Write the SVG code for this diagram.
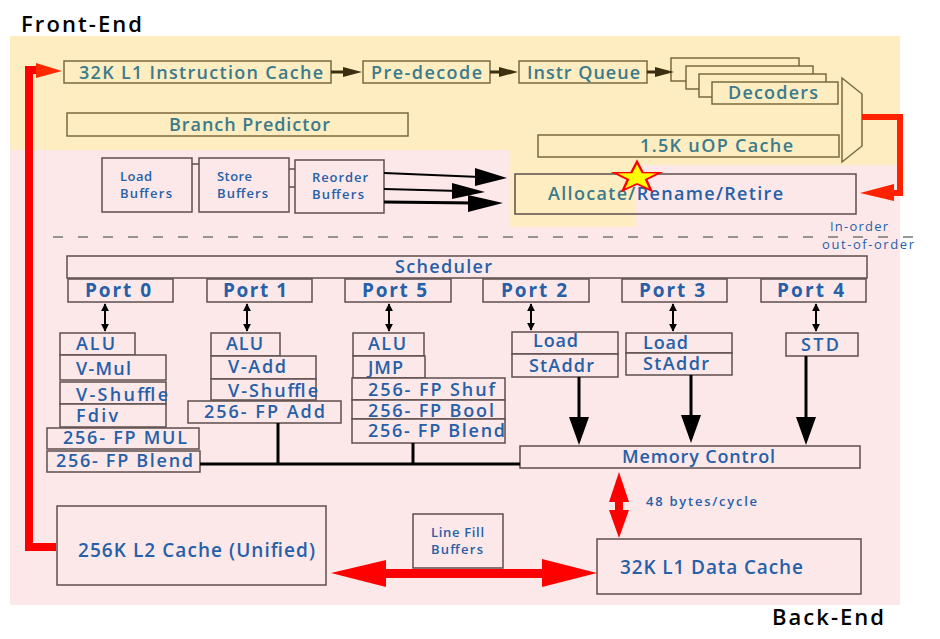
<svg xmlns="http://www.w3.org/2000/svg" width="940" height="639" viewBox="0 0 940 639">
  <style>
    text { font-family: "Open Sans", "DejaVu Sans", sans-serif; }
    .fe { fill: none; stroke: #7a6a3c; stroke-width: 1.5; }
    .fef { fill: #fdedc0; stroke: #7a6a3c; stroke-width: 1.5; }
    .be { fill: none; stroke: #5e4e4e; stroke-width: 1.5; }
    .bef { fill: #fde8e9; stroke: #5e4e4e; stroke-width: 1.5; }
    .tf { fill: #3b7a8c; font-size: 18px; font-weight: 600; }
    .tb { fill: #2560a8; font-size: 19px; font-weight: 600; }
    .sm { fill: #2560a8; font-size: 13px; font-weight: 600; }
    .lt { fill: #2560a8; font-size: 13px; font-weight: 400; }
    .port { fill: #2560a8; font-size: 19px; font-weight: 700; }
    .unit { fill: #2560a8; font-size: 18px; font-weight: 600; }
    .head { fill: #000; font-size: 22px; font-weight: 600; }
    .blk { stroke: #000; stroke-width: 3; fill: none; }
    .red { fill: #ff0000; }
  </style>
  <defs>
    <marker id="tip" viewBox="0 0 10 10" refX="9" refY="5" markerWidth="4" markerHeight="4" orient="auto-start-reverse">
      <path d="M0,0 L10,5 L0,10 z" fill="#000"/>
    </marker>
  </defs>

  <!-- region backgrounds -->
  <g id="regions">
    <rect x="10" y="150" width="890" height="455" fill="#fde8e9"/>
    <rect x="10" y="36" width="890" height="114" fill="#fdedc0"/>
    <rect x="510" y="150" width="390" height="15" fill="#fdedc0"/>
    <rect x="510" y="165" width="126" height="62" fill="#fdedc0"/>
  </g>

  <text class="head" x="21" y="32" textLength="121">Front-End</text>
  <text class="head" x="772" y="625" textLength="112">Back-End</text>

  <!-- front end -->
  <g id="icache"><rect class="fe" x="64" y="61" width="267" height="22"/><text class="tf" x="79" y="79" textLength="244">32K L1 Instruction Cache</text></g>
  <g id="predecode"><rect class="fe" x="363" y="61" width="127" height="22"/><text class="tf" x="371" y="79" textLength="111">Pre-decode</text></g>
  <g id="iqueue"><rect class="fe" x="519" y="61" width="128" height="22"/><text class="tf" x="527" y="79" textLength="113">Instr Queue</text></g>
  <g id="decoders">
    <rect class="fef" x="671" y="58" width="128" height="23"/>
    <rect class="fef" x="686" y="66" width="127" height="23"/>
    <rect class="fef" x="699" y="74" width="127" height="23"/>
    <rect class="fef" x="712" y="82" width="126" height="22"/>
    <text class="tf" x="728" y="99" textLength="90">Decoders</text>
  </g>
  <g id="mux"><polygon class="fef" points="842,78 862,94 862,146 842,162"/></g>
  <g id="uopcache"><rect class="fe" x="538" y="135" width="301" height="22"/><text class="tf" x="640" y="152" textLength="153">1.5K uOP Cache</text></g>
  <g id="bpred"><rect class="fe" x="67" y="113" width="341" height="23"/><text class="tf" x="169" y="131" textLength="161">Branch Predictor</text></g>

  <!-- buffers and allocation -->
  <g id="loadbuf"><rect class="be" x="102" y="158" width="90" height="54"/><text class="sm" x="120" y="181" textLength="32">Load</text><text class="sm" x="120" y="198" textLength="52">Buffers</text></g>
  <g id="storebuf"><rect class="be" x="199" y="158" width="90" height="54"/><text class="sm" x="217" y="181" textLength="35">Store</text><text class="sm" x="217" y="198" textLength="51">Buffers</text></g>
  <g id="robuf"><rect class="be" x="295" y="160" width="89" height="53"/><text class="sm" x="312" y="182" textLength="56">Reorder</text><text class="sm" x="312" y="199" textLength="52">Buffers</text></g>
  <g id="allocate">
    <rect class="be" x="515" y="174" width="341" height="40"/>
    <text x="548" y="200" font-size="18" font-weight="600" textLength="235"><tspan fill="#3b7a8c">Allocate/</tspan><tspan fill="#2560a8">Rename/Retire</tspan></text>
    <polygon points="0,-24 5.6,-7.8 22.8,-7.4 9.1,3 14.1,19.4 0,9.6 -14.1,19.4 -9.1,3 -22.8,-7.4 -5.6,-7.8" transform="translate(637,177.6) scale(1,0.66)" fill="#ffff00" stroke="#ff0000" stroke-width="2.5"/>
  </g>

  <line x1="53" y1="237" x2="915" y2="237" stroke="#777" stroke-width="1.5" stroke-dasharray="10 15"/>
  <text class="lt" x="830" y="231" textLength="58">In-order</text>
  <text class="lt" x="822" y="249" textLength="92">out-of-order</text>

  <!-- scheduler and ports -->
  <g id="scheduler"><rect class="be" x="67" y="256" width="800" height="22"/><text class="unit" x="395" y="273" textLength="97">Scheduler</text></g>
  <g id="port0"><rect class="be" x="68" y="279" width="105" height="23"/><text class="port" x="85" y="297" textLength="66">Port 0</text></g>
  <g id="port1"><rect class="be" x="207" y="279" width="105" height="23"/><text class="port" x="223" y="297" textLength="64">Port 1</text></g>
  <g id="port5"><rect class="be" x="345" y="279" width="106" height="23"/><text class="port" x="362" y="297" textLength="65">Port 5</text></g>
  <g id="port2"><rect class="be" x="483" y="279" width="106" height="23"/><text class="port" x="501" y="297" textLength="66">Port 2</text></g>
  <g id="port3"><rect class="be" x="622" y="279" width="105" height="23"/><text class="port" x="639" y="297" textLength="66">Port 3</text></g>
  <g id="port4"><rect class="be" x="761" y="279" width="105" height="23"/><text class="port" x="777" y="297" textLength="67">Port 4</text></g>

  <!-- port 0 units -->
  <g id="p0-units">
    <rect class="bef" x="60" y="333" width="75" height="22"/><text class="unit" x="76" y="350" textLength="39">ALU</text>
    <rect class="bef" x="60" y="355" width="106" height="25"/><text class="unit" x="76" y="375" textLength="55">V-Mul</text>
    <rect class="bef" x="60" y="382" width="106" height="22"/><text class="unit" x="76" y="401" textLength="92">V-Shuffle</text>
    <rect class="bef" x="60" y="404" width="106" height="23"/><text class="unit" x="76" y="422" textLength="42">Fdiv</text>
    <rect class="bef" x="47" y="428" width="152" height="21"/><text class="unit" x="63" y="444" textLength="124">256- FP MUL</text>
    <rect class="bef" x="47" y="451" width="153" height="21"/><text class="unit" x="56" y="467" textLength="137">256- FP Blend</text>
  </g>
  <!-- port 1 units -->
  <g id="p1-units">
    <rect class="bef" x="211" y="333" width="69" height="23"/><text class="unit" x="226" y="350" textLength="37">ALU</text>
    <rect class="bef" x="211" y="356" width="105" height="23"/><text class="unit" x="228" y="373" textLength="58">V-Add</text>
    <rect class="bef" x="211" y="379" width="105" height="21"/><text class="unit" x="228" y="397" textLength="90">V-Shuffle</text>
    <rect class="bef" x="188" y="401" width="153" height="22"/><text class="unit" x="204" y="418" textLength="121">256- FP Add</text>
  </g>
  <!-- port 5 units -->
  <g id="p5-units">
    <rect class="bef" x="353" y="333" width="71" height="23"/><text class="unit" x="368" y="350" textLength="38">ALU</text>
    <rect class="bef" x="353" y="356" width="72" height="22"/><text class="unit" x="368" y="374" textLength="35">JMP</text>
    <rect class="bef" x="352" y="378" width="153" height="22"/><text class="unit" x="368" y="396" textLength="127">256- FP Shuf</text>
    <rect class="bef" x="352" y="400" width="153" height="19"/><text class="unit" x="368" y="417" textLength="126">256- FP Bool</text>
    <rect class="bef" x="352" y="419" width="153" height="24"/><text class="unit" x="368" y="437" textLength="137">256- FP Blend</text>
  </g>
  <!-- load / store units -->
  <g id="p2-units">
    <rect class="bef" x="512" y="332" width="106" height="22"/><text class="unit" x="533" y="347" textLength="45">Load</text>
    <rect class="bef" x="512" y="354" width="106" height="23"/><text class="unit" x="529" y="372" textLength="65">StAddr</text>
  </g>
  <g id="p3-units">
    <rect class="bef" x="626" y="333" width="106" height="20"/><text class="unit" x="643" y="349" textLength="45">Load</text>
    <rect class="bef" x="626" y="353" width="106" height="22"/><text class="unit" x="643" y="370" textLength="66">StAddr</text>
  </g>
  <g id="p4-units">
    <rect class="bef" x="786" y="333" width="72" height="23"/><text class="unit" x="801" y="351" textLength="38">STD</text>
  </g>

  <g id="memctl"><rect class="be" x="520" y="446" width="340" height="22"/><text class="unit" x="622" y="463" textLength="153">Memory Control</text></g>

  <!-- caches -->
  <g id="l2cache"><rect class="be" x="57" y="506" width="269" height="79"/><text class="tb" x="78" y="557" textLength="237">256K L2 Cache (Unified)</text></g>
  <g id="linefill"><rect class="be" x="413" y="514" width="90" height="54"/><text class="sm" x="431" y="537" textLength="53">Line Fill</text><text class="sm" x="431" y="554" textLength="52">Buffers</text></g>
  <g id="l1dcache"><rect class="be" x="597" y="539" width="264" height="55"/><text class="tb" x="620" y="574" textLength="183">32K L1 Data Cache</text></g>
  <text class="sm" x="646" y="506" textLength="111">48 bytes/cycle</text>

  <!-- connectors -->
  <g id="connectors">
    <!-- front-end flow -->
    <g fill="#3a3010" stroke="#3a3010">
      <line x1="331" y1="72" x2="350" y2="72" stroke-width="3"/><polygon points="343,67 362,72 343,77" stroke="none"/>
      <line x1="490" y1="72" x2="506" y2="72" stroke-width="3"/><polygon points="499,67 518,72 499,77" stroke="none"/>
      <line x1="647" y1="72" x2="662" y2="72" stroke-width="3"/><polygon points="655,67 674,72 655,77" stroke="none"/>
    </g>
    <!-- feedback paths -->
    <polyline points="862,117 900,117 900,193 888,193" fill="none" stroke="#ff2200" stroke-width="6"/>
    <polygon points="894,184 860,193 894,201" fill="#ff2200"/>
    <polyline points="56,547 29,547 29,70 40,70" fill="none" stroke="#ff0000" stroke-width="8"/>
    <polygon points="36,63 62,71 36,78" fill="#ff2a00"/>
    <!-- buffer links -->
    <g stroke="#5e4e4e" stroke-width="1.5">
      <line x1="192" y1="164" x2="199" y2="164"/>
      <line x1="289" y1="169" x2="295" y2="169"/>
      <line x1="289" y1="187" x2="295" y2="187"/>
    </g>
    <!-- reorder to allocate -->
    <g fill="#000">
      <line x1="384" y1="173" x2="480" y2="177" stroke="#000" stroke-width="2"/><polygon points="475,168 507,178 475,186"/>
      <line x1="384" y1="189" x2="460" y2="191" stroke="#000" stroke-width="2"/><polygon points="452,183 485,192 452,199"/>
      <line x1="384" y1="202" x2="475" y2="203" stroke="#000" stroke-width="3"/><polygon points="468,195 503,203 468,212"/>
    </g>
    <!-- scheduler ports to units -->
    <g stroke="#000" stroke-width="2" marker-start="url(#tip)" marker-end="url(#tip)">
      <line x1="105" y1="304" x2="105" y2="331"/>
      <line x1="247" y1="304" x2="247" y2="331"/>
      <line x1="389" y1="304" x2="389" y2="331"/>
      <line x1="531" y1="304" x2="531" y2="330"/>
      <line x1="673" y1="304" x2="673" y2="331"/>
      <line x1="816" y1="304" x2="816" y2="331"/>
    </g>
    <!-- load/store to memory control -->
    <g fill="#000">
      <line class="blk" x1="579" y1="377" x2="579" y2="420"/><polygon points="569,417 589,417 579,445"/>
      <line class="blk" x1="691" y1="375" x2="691" y2="418"/><polygon points="681,415 701,415 691,443"/>
      <line class="blk" x1="806" y1="356" x2="806" y2="420"/><polygon points="796,417 816,417 806,445"/>
    </g>
    <!-- result bus -->
    <polyline class="blk" points="200,464 520,464"/>
    <line class="blk" x1="278" y1="423" x2="278" y2="464"/>
    <line class="blk" x1="413" y1="443" x2="413" y2="464"/>
    <!-- memory paths -->
    <polygon class="red" points="619,472 629,502 623,502 623,510 629,510 619,538 609,510 615,510 615,502 609,502"/>
    <polygon class="red" points="331,573 386,560 386,569 542,569 542,559 597,573 542,587 542,578 386,578 386,587"/>
  </g>
</svg>
